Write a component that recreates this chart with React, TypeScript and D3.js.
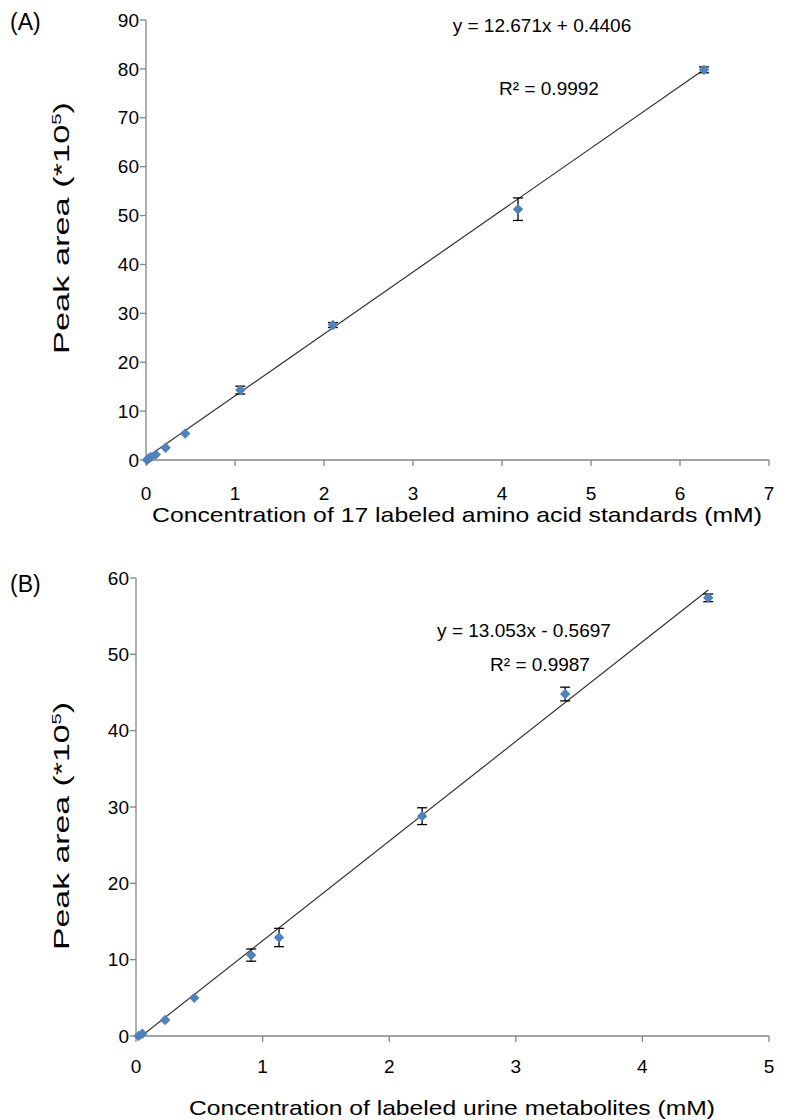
import React from "react";
import * as d3 from "d3";

// Panel A data
const aX = [0.013, 0.027, 0.055, 0.11, 0.22, 0.44, 1.06, 2.1, 4.18, 6.27];
const aY = [0.0, 0.3, 0.6, 1.1, 2.5, 5.4, 14.3, 27.6, 51.3, 79.8];
const aErr = [0.1, 0.1, 0.1, 0.2, 0.3, 0.4, 0.8, 0.5, 2.3, 0.6];
const aSlope = 12.671;
const aIntercept = 0.4406;
const aXTicks = [0, 1, 2, 3, 4, 5, 6, 7];
const aYTicks = [0, 10, 20, 30, 40, 50, 60, 70, 80, 90];

// Panel B data
const bX = [0.02, 0.05, 0.23, 0.46, 0.91, 1.13, 2.26, 3.39, 4.52];
const bY = [0.0, 0.3, 2.1, 5.0, 10.6, 12.9, 28.8, 44.8, 57.4];
const bErr = [0.1, 0.1, 0.3, 0.3, 0.8, 1.2, 1.1, 0.9, 0.5];
const bSlope = 13.053;
const bIntercept = -0.5697;
const bXTicks = [0, 1, 2, 3, 4, 5];
const bYTicks = [0, 10, 20, 30, 40, 50, 60];

const FONT = "'Liberation Sans', Arial, sans-serif";
const AXIS = "#868686";
const MARK = "#4F81BD";

type PanelProps = {
  label: string;
  labelY: number;
  xs: number[];
  ys: number[];
  errs: number[];
  slope: number;
  intercept: number;
  xTicks: number[];
  yTicks: number[];
  x0: number;
  x1: number;
  y0: number;
  y1: number;
  eq: string;
  r2: string;
  eqX: number;
  eqY: number;
  r2X: number;
  r2Y: number;
  xTitle: string;
  xTitleX: number;
  xTitleY: number;
  xTitleLen: number;
  yTitleX: number;
  yTitleMid: number;
  yTitleLen: number;
  xTickDy: number;
};

function Panel(p: PanelProps) {
  const xMax = p.xTicks[p.xTicks.length - 1];
  const yMax = p.yTicks[p.yTicks.length - 1];
  const x = d3.scaleLinear().domain([0, xMax]).range([p.x0, p.x1]);
  const y = d3.scaleLinear().domain([0, yMax]).range([p.y0, p.y1]);
  const xMinD = d3.min(p.xs) as number;
  const xMaxD = d3.max(p.xs) as number;
  const lx0 = Math.max(xMinD, -p.intercept / p.slope, 0);
  const line = d3.line<number>()
    .x((d) => x(d))
    .y((d) => y(p.slope * d + p.intercept));
  const h = 5.2;
  const diamond = `M0,${-h}L${h},0L0,${h}L${-h},0Z`;
  return (
    <g>
      <text x={10} y={p.labelY} fontFamily={FONT} fontSize={23} fill="#000">{p.label}</text>
      {/* axes */}
      <line x1={p.x0} x2={p.x0} y1={p.y0} y2={p.y1} stroke={AXIS} strokeWidth={1.3} />
      <line x1={p.x0} x2={p.x1} y1={p.y0} y2={p.y0} stroke={AXIS} strokeWidth={1.3} />
      {p.yTicks.map((t) => (
        <g key={"yt" + t}>
          <line x1={p.x0 - 6} x2={p.x0} y1={y(t)} y2={y(t)} stroke={AXIS} strokeWidth={1.3} />
          <text x={p.x0 - 7} y={y(t)} dy="0.35em" textAnchor="end" fontFamily={FONT} fontSize={19} fill="#000">{t}</text>
        </g>
      ))}
      {p.xTicks.map((t) => (
        <g key={"xt" + t}>
          <line x1={x(t)} x2={x(t)} y1={p.y0} y2={p.y0 + 6} stroke={AXIS} strokeWidth={1.3} />
          <text x={x(t)} y={p.y0 + p.xTickDy} textAnchor="middle" fontFamily={FONT} fontSize={19} fill="#000">{t}</text>
        </g>
      ))}
      {/* trendline */}
      <path d={line([lx0, xMaxD]) || ""} stroke="#333" strokeWidth={1.2} fill="none" />
      {/* error bars */}
      {p.xs.map((xv, i) => {
        const e = p.errs[i];
        if (e < 0.45) return null;
        const cx = x(xv);
        return (
          <g key={"e" + i} stroke="#000" strokeWidth={1.3}>
            <line x1={cx} x2={cx} y1={y(p.ys[i] - e)} y2={y(p.ys[i] + e)} />
            <line x1={cx - 5} x2={cx + 5} y1={y(p.ys[i] - e)} y2={y(p.ys[i] - e)} />
            <line x1={cx - 5} x2={cx + 5} y1={y(p.ys[i] + e)} y2={y(p.ys[i] + e)} />
          </g>
        );
      })}
      {/* markers */}
      {p.xs.map((xv, i) => (
        <path key={"m" + i} d={diamond} transform={`translate(${x(xv)},${y(p.ys[i])})`} fill={MARK} />
      ))}
      <text x={p.eqX} y={p.eqY} textAnchor="middle" fontFamily={FONT} fontSize={19} fill="#000">{p.eq}</text>
      <text x={p.r2X} y={p.r2Y} textAnchor="middle" fontFamily={FONT} fontSize={19} fill="#000">{p.r2}</text>
      <text x={p.xTitleX} y={p.xTitleY} textAnchor="middle" fontFamily={FONT} fontSize={21}
        textLength={p.xTitleLen} lengthAdjust="spacingAndGlyphs" fill="#000">{p.xTitle}</text>
      <g transform={`translate(${p.yTitleX},${p.yTitleMid}) rotate(-90)`}>
        <text x={0} y={0} textAnchor="middle" fontFamily={FONT} fontSize={22}
          textLength={p.yTitleLen} lengthAdjust="spacingAndGlyphs" fill="#000">
          Peak area (*10<tspan dy="-8" fontSize={13}>5</tspan><tspan dy="8">)</tspan>
        </text>
      </g>
    </g>
  );
}

export default function App() {
  return (
    <svg width={793} height={1120} style={{ position: "absolute", left: 0, top: 0, background: "#fff" }}>
      <rect width={793} height={1120} fill="#fff" />
      <Panel
        label="(A)"
        labelY={30}
        xs={aX}
        ys={aY}
        errs={aErr}
        slope={aSlope}
        intercept={aIntercept}
        xTicks={aXTicks}
        yTicks={aYTicks}
        x0={146}
        x1={769}
        y0={460}
        y1={20}
        eq="y = 12.671x + 0.4406"
        r2="R² = 0.9992"
        eqX={542}
        eqY={32}
        r2X={549}
        r2Y={95}
        xTitle="Concentration of 17 labeled amino acid standards (mM)"
        xTitleX={457}
        xTitleY={522}
        xTitleLen={610}
        yTitleX={69}
        yTitleMid={228}
        yTitleLen={252}
        xTickDy={40}
      />
      <Panel
        label="(B)"
        labelY={592}
        xs={bX}
        ys={bY}
        errs={bErr}
        slope={bSlope}
        intercept={bIntercept}
        xTicks={bXTicks}
        yTicks={bYTicks}
        x0={136}
        x1={769}
        y0={1036}
        y1={578}
        eq="y = 13.053x - 0.5697"
        r2="R² = 0.9987"
        eqX={524}
        eqY={637}
        r2X={540}
        r2Y={671}
        xTitle="Concentration of labeled urine metabolites (mM)"
        xTitleX={452}
        xTitleY={1115}
        xTitleLen={526}
        yTitleX={69}
        yTitleMid={826}
        yTitleLen={248}
        xTickDy={37}
      />
    </svg>
  );
}
